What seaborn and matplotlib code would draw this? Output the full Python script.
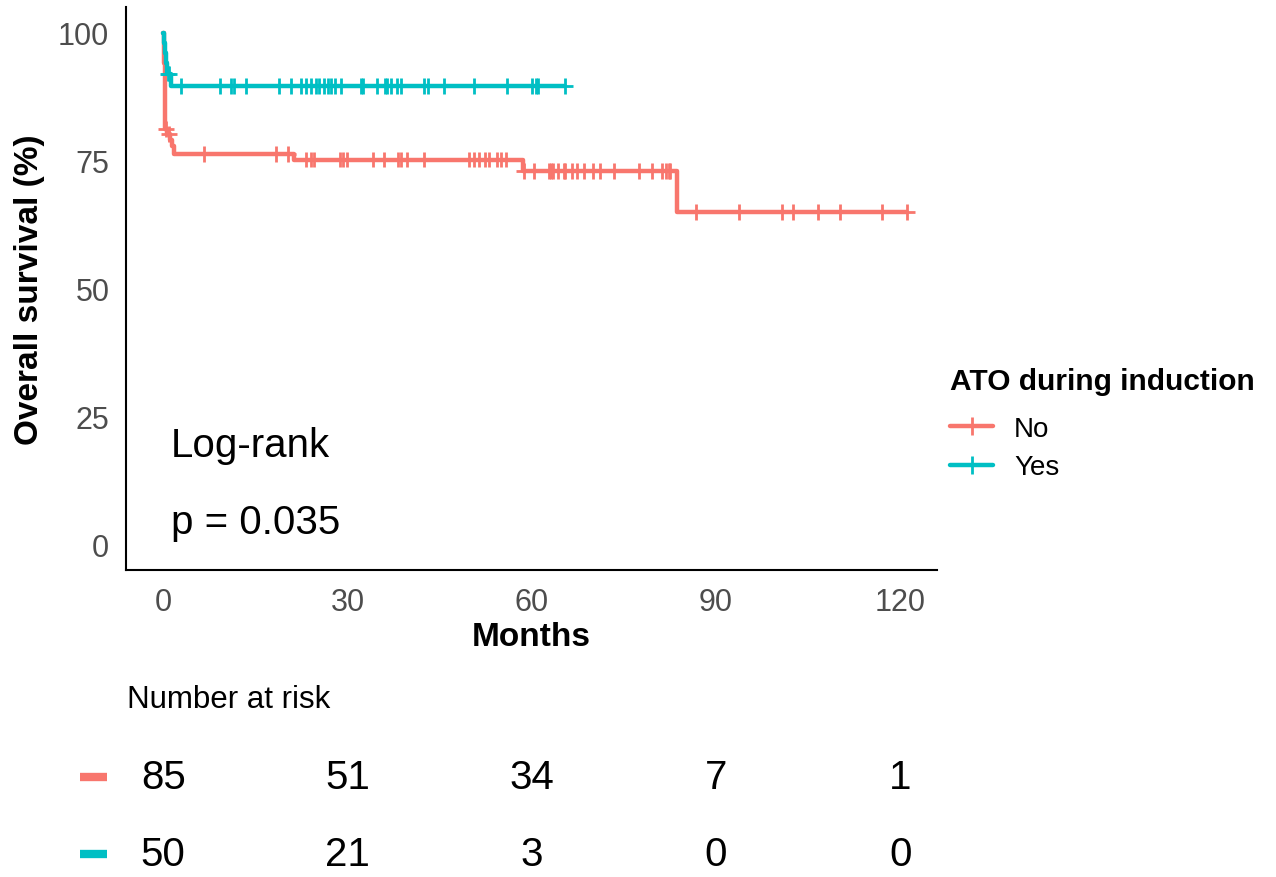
import numpy as np
import pandas as pd
import matplotlib
matplotlib.use("Agg")
import matplotlib.pyplot as plt
import seaborn as sns
from matplotlib.lines import Line2D
from matplotlib.transforms import blended_transform_factory

# ---------------- data ----------------
groups = ["No", "Yes"]
colors = ["#F8766D", "#00BFC4"]

no_step_time = [0, 0.1, 0.2, 0.3, 0.6, 1.1, 1.4, 1.8, 21.3, 58.5, 83.7, 121.1]
no_step_surv = [100, 94.1, 87.1, 81.2, 80.2, 79.0, 77.8, 76.3, 75.2, 73.0, 65.0, 65.0]
yes_step_time = [0, 0.1, 0.25, 0.4, 0.6, 1.3, 65.4]
yes_step_surv = [100, 98.0, 96.0, 94.0, 92.0, 89.6, 89.6]

no_censor = [0.4, 0.9, 6.7, 18.4, 20.3, 23.3, 24.0, 24.6, 28.8, 29.2, 30.0, 34.1,
             36.0, 38.2, 38.7, 39.7, 42.4, 49.8, 50.6, 51.4, 52.4, 53.1, 54.4,
             55.0, 55.8, 58.7, 60.4, 62.8, 63.1, 63.4, 64.2, 65.2, 65.5, 66.6,
             67.4, 68.5, 69.9, 71.2, 73.4, 77.4, 79.6, 81.2, 81.8, 82.3, 82.6,
             86.7, 93.7, 100.8, 102.5, 106.7, 110.2, 117.1, 121.1]
yes_censor = [0.7, 1.0, 2.9, 9.3, 11.1, 11.5, 13.5, 18.9, 20.8, 22.4, 23.3, 24.1,
              24.9, 25.4, 26.2, 26.8, 27.3, 28.0, 29.0, 32.2, 32.5, 34.8, 36.1,
              36.4, 37.1, 38.0, 38.7, 42.4, 43.1, 45.7, 50.6, 55.9, 60.0, 60.7,
              61.0, 65.4]

risk_times = [0, 30, 60, 90, 120]
risk_no = [85, 51, 34, 7, 1]
risk_yes = [50, 21, 3, 0, 0]

legend_title = "ATO during induction"
x_label = "Months"
y_label = "Overall survival (%)"
x_ticks = [0, 30, 60, 90, 120]
y_ticks = [0, 25, 50, 75, 100]
test_name = "Log-rank"
p_text = "p = 0.035"

# ---------------- frames ----------------
def step_lookup(t_steps, s_steps, t):
    idx = np.searchsorted(np.asarray(t_steps), np.asarray(t), side="right") - 1
    return np.asarray(s_steps)[idx]

curves = pd.concat([
    pd.DataFrame({"time": no_step_time, "surv": no_step_surv, "group": "No"}),
    pd.DataFrame({"time": yes_step_time, "surv": yes_step_surv, "group": "Yes"}),
], ignore_index=True)
cens = pd.concat([
    pd.DataFrame({"time": no_censor,
                  "surv": step_lookup(no_step_time, no_step_surv, no_censor),
                  "group": "No"}),
    pd.DataFrame({"time": yes_censor,
                  "surv": step_lookup(yes_step_time, yes_step_surv, yes_censor),
                  "group": "Yes"}),
], ignore_index=True)
palette = dict(zip(groups, colors))

# ---------------- figure ----------------
sns.set_style("white")
plt.rcParams["font.family"] = ["Liberation Sans", "DejaVu Sans"]
plt.rcParams["text.color"] = "black"
plt.rcParams["axes.labelcolor"] = "black"

W, H = 1276, 878
fig = plt.figure(figsize=(W / 100, H / 100), dpi=100)
L, R, T, B = 126, 937, 8, 571
ax = fig.add_axes([L / W, 1 - B / H, (R - L) / W, (B - T) / H])

sns.lineplot(data=curves, x="time", y="surv", hue="group", palette=palette,
             estimator=None, sort=False, drawstyle="steps-post", linewidth=3.2,
             legend=False, ax=ax)
sns.scatterplot(data=cens, x="time", y="surv", hue="group", palette=palette,
                marker="+", s=130, linewidth=2, legend=False, ax=ax, zorder=3)

ax.set_xlim(-6.07, 126.0)
ax.set_ylim(-5, 105)
ax.set_xticks(x_ticks)
ax.set_yticks(y_ticks)
ax.tick_params(axis="both", direction="out", length=6, width=1.2,
               color="#333333", labelsize=22, labelcolor="#4D4D4D", pad=6)
for side in ["top", "right"]:
    ax.spines[side].set_visible(False)
for side in ["left", "bottom"]:
    ax.spines[side].set_color("black")
    ax.spines[side].set_linewidth(1.5)

ax.set_xlabel(x_label, fontsize=24, fontweight="bold", va="center")
ax.set_ylabel(y_label, fontsize=24, fontweight="bold", va="center")
ax.xaxis.set_label_coords(0.5, -(638 - B) / (B - T))
ax.yaxis.set_label_coords(-(L - 30) / (R - L), 0.5)

ax.text(1.2, 19.5, test_name, fontsize=29, ha="left", va="center")
ax.text(1.2, 4.3, p_text, fontsize=29, ha="left", va="center")

# legend
handles = [Line2D([0], [0], color=c, lw=3.2, marker="+", markersize=13, mew=2)
           for c in colors]
leg = ax.legend(handles, groups, title=legend_title, loc="upper left",
                bbox_to_anchor=(950 / W, 1 - 368 / H), bbox_transform=fig.transFigure,
                frameon=False, fontsize=20, handlelength=1.55, handletextpad=0.75,
                labelspacing=0.45, borderaxespad=0, borderpad=0,
                title_fontproperties={"weight": "bold", "size": 21.5})
leg._legend_box.align = "left"
leg._legend_box.sep = 15

# risk table
trans = blended_transform_factory(ax.transData, fig.transFigure)
fig.text(127 / W, 1 - 700 / H, "Number at risk", fontsize=22.5, ha="left", va="center")
for vals, c, ypx in [(risk_no, colors[0], 778), (risk_yes, colors[1], 855)]:
    yf = 1 - ypx / H
    for t, n in zip(risk_times, vals):
        ax.text(t, yf, str(n), transform=trans, fontsize=29, ha="center",
                va="center", clip_on=False)
    fig.add_artist(Line2D([80 / W, 107 / W], [yf, yf], transform=fig.transFigure,
                          color=c, lw=6, solid_capstyle="butt"))

fig.savefig("out.png", dpi=100)
